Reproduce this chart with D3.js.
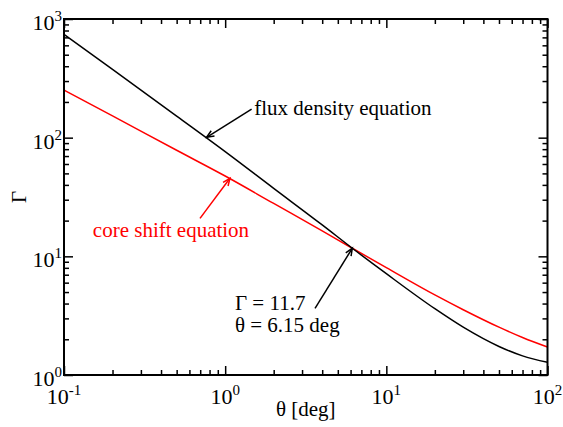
<!DOCTYPE html>
<html>
<head>
<meta charset="utf-8">
<script src="https://cdn.jsdelivr.net/npm/d3@7"></script>
<style>
  body { margin: 0; background: #ffffff; }
</style>
</head>
<body>
<div id="chart"></div>
<script>
// Values
var theta = [0.1, 0.2, 0.5, 1, 2, 4, 6.15, 10, 20, 30, 50, 70, 100];
var gamma_flux = [743, 376, 152, 76.3, 37.4, 18.4, 11.7, 7.14, 3.62, 2.53, 1.74, 1.45, 1.28];
var gamma_core = [252, 152.5, 78.3, 47.5, 27.9, 16.4, 11.7, 8.03, 4.73, 3.55, 2.53, 2.07, 1.72];

var x_major = [0.1, 1, 10, 100];
var x_major_exp = ["-1", "0", "1", "2"];
var y_major = [1, 10, 100, 1000];
var y_major_exp = ["0", "1", "2", "3"];

// annotations: text anchor, arrow tail and tip in data units
var notes = [
  { lines: ["flux density equation"], color: "#000000", at: [1.515, 155], tail: [1.459, 174], tip: [0.767, 100.7] },
  { lines: ["core shift equation"], color: "#ff0000", at: [0.151, 14.6], tail: [0.698, 20.9], tip: [1.071, 45.5] },
  { lines: ["\u0393 = 11.7", "\u03b8 = 6.15 deg"], color: "#000000", at: [1.15, 3.53], tail: [3.61, 3.65], tip: [6.15, 11.7] }
];

var serif = "'Liberation Serif', 'Times New Roman', Times, serif";

var width = 563,
  height = 427;
var m = { top: 19, right: 15.5, bottom: 52, left: 64 };

var svg = d3
  .select("#chart")
  .append("svg")
  .attr("width", width)
  .attr("height", height)
  .attr("viewBox", [0, 0, width, height])
  .style("font-family", serif);

var x = d3.scaleLog().domain([0.1, 100]).range([m.left, width - m.right]);
var y = d3.scaleLog().domain([1, 1000]).range([height - m.bottom, m.top]);

var x_minor = x.ticks().filter((d) => x_major.indexOf(d) < 0);
var y_minor = y.ticks().filter((d) => y_major.indexOf(d) < 0);

// ticks on all four sides, pointing in
function tick_axis(axis, scale, values, size, transform) {
  svg
    .append("g")
    .attr("class", "ticks")
    .attr("transform", transform)
    .call(axis(scale).tickValues(values).tickSize(size).tickSizeOuter(0).tickFormat(""))
    .call((g) => g.select(".domain").remove())
    .call((g) => g.selectAll("line").attr("stroke", "#000").attr("stroke-width", 1.5));
}

tick_axis(d3.axisBottom, x, x_major, -9, `translate(0,${y(1)})`);
tick_axis(d3.axisBottom, x, x_minor, -5, `translate(0,${y(1)})`);
tick_axis(d3.axisTop, x, x_major, -9, `translate(0,${y(1000)})`);
tick_axis(d3.axisTop, x, x_minor, -5, `translate(0,${y(1000)})`);
tick_axis(d3.axisLeft, y, y_major, -9, `translate(${x(0.1)},0)`);
tick_axis(d3.axisLeft, y, y_minor, -5, `translate(${x(0.1)},0)`);
tick_axis(d3.axisRight, y, y_major, -9, `translate(${x(100)},0)`);
tick_axis(d3.axisRight, y, y_minor, -5, `translate(${x(100)},0)`);

// curves
var line = d3
  .line()
  .x((d) => x(d[0]))
  .y((d) => y(d[1]))
  .curve(d3.curveMonotoneX);

svg
  .append("path")
  .datum(theta.map((t, i) => [t, gamma_core[i]]))
  .attr("fill", "none")
  .attr("stroke", "#ff0000")
  .attr("stroke-width", 1.5)
  .attr("d", line);

svg
  .append("path")
  .datum(theta.map((t, i) => [t, gamma_flux[i]]))
  .attr("fill", "none")
  .attr("stroke", "#000000")
  .attr("stroke-width", 1.5)
  .attr("d", line);

// frame
svg
  .append("rect")
  .attr("x", x(0.1))
  .attr("y", y(1000))
  .attr("width", x(100) - x(0.1))
  .attr("height", y(1) - y(1000))
  .attr("fill", "none")
  .attr("stroke", "#000")
  .attr("stroke-width", 2);

// tick labels
var xl = svg
  .selectAll(".x-label")
  .data(x_major)
  .enter()
  .append("text")
  .attr("class", "x-label")
  .attr("x", (d) => x(d))
  .attr("y", y(1) + 29)
  .attr("text-anchor", "middle")
  .style("font-family", serif)
  .style("font-size", "22px");
xl.append("tspan").text("10");
xl.append("tspan")
  .attr("dy", -9)
  .style("font-size", "15px")
  .text((d, i) => x_major_exp[i]);

var yl = svg
  .selectAll(".y-label")
  .data(y_major)
  .enter()
  .append("text")
  .attr("class", "y-label")
  .attr("x", x(0.1) - 2)
  .attr("y", (d) => y(d) + 11)
  .attr("text-anchor", "end")
  .style("font-family", serif)
  .style("font-size", "22px");
yl.append("tspan").text("10");
yl.append("tspan")
  .attr("dy", -9)
  .style("font-size", "15px")
  .text((d, i) => y_major_exp[i]);

// axis titles
svg
  .append("text")
  .attr("x", (x(0.1) + x(100)) / 2)
  .attr("y", 416)
  .attr("text-anchor", "middle")
  .style("font-family", serif)
  .style("font-size", "21px")
  .text("\u03b8 [deg]");

svg
  .append("text")
  .attr("transform", `translate(26,${(y(1) + y(1000)) / 2}) rotate(-90)`)
  .attr("text-anchor", "middle")
  .style("font-family", serif)
  .style("font-size", "21px")
  .text("\u0393");

// annotations
function arrow(note) {
  var x0 = x(note.tail[0]),
    y0 = y(note.tail[1]),
    x1 = x(note.tip[0]),
    y1 = y(note.tip[1]);
  var a = Math.atan2(y1 - y0, x1 - x0),
    len = 8,
    spread = 0.4;
  var g = svg.append("g").attr("stroke", note.color).attr("stroke-width", 1.5).attr("fill", "none");
  g.append("line").attr("x1", x0).attr("y1", y0).attr("x2", x1).attr("y2", y1);
  g.append("path").attr(
    "d",
    `M${x1 - len * Math.cos(a - spread)},${y1 - len * Math.sin(a - spread)}L${x1},${y1}L${
      x1 - len * Math.cos(a + spread)
    },${y1 - len * Math.sin(a + spread)}`
  );
}

notes.forEach(function (note) {
  arrow(note);
  svg
    .selectAll(null)
    .data(note.lines)
    .enter()
    .append("text")
    .attr("x", x(note.at[0]))
    .attr("y", (d, i) => y(note.at[1]) + i * 21.7)
    .attr("fill", note.color)
    .style("font-family", serif)
    .style("font-size", "21px")
    .text((d) => d);
});
</script>
</body>
</html>
